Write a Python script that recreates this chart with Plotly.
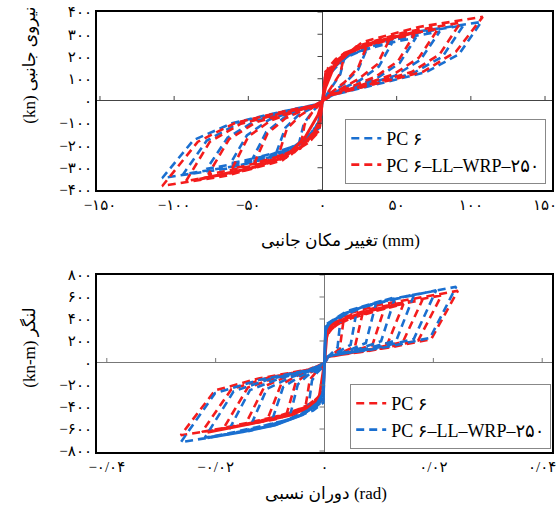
import plotly.graph_objects as go

# ---------------- DATA ----------------
# Top chart: lateral force (kN) vs lateral displacement (mm); cycles listed separately
top_blue_cycles_x = [
    [0, 2, 3.8, 9, 15, 12, 7, 4, 1, 0, -2, -4, -9.6, -16, -12.5, -7, -3.5, -0.8],
    [0, 2, 7.5, 18, 30, 24, 15, 8, 2, 0, -2, -7.8, -18.6, -31, -25, -16, -7, -1.6],
    [0, 2, 11.8, 28, 47, 38, 25, 13, 3, 0, -2, -11.8, -28, -47, -38, -26, -11, -2.4],
    [0, 2, 15.8, 38, 63, 52, 37, 19, 4, 0, -2, -15.5, -37, -62, -51, -36, -16, -3.1],
    [0, 2, 19.8, 47.4, 79, 66, 49, 25, 5, 0, -2, -19.5, -46.8, -78, -64, -46, -20, -3.9],
    [0, 2, 23.8, 57, 95, 81, 61, 31, 6, 0, -2, -23.5, -56.4, -94, -78, -56, -24, -4.7],
    [0, 2, 26.8, 64.2, 107, 92, 70, 36, 7, 0, -2, -27, -64.8, -108, -87, -61, -27, -5.4],
]
top_blue_cycles_y = [
    [0, 70, 140, 176, 200, 120, 70, 40, 14, 0, -68, -137, -172, -195, -100, -50, -25, -10],
    [0, 82, 165, 207, 235, 140, 80, 48, 18, 0, -81, -161, -202, -230, -120, -62, -30, -12],
    [0, 92, 183, 231, 262, 155, 92, 55, 20, 0, -90, -181, -227, -258, -140, -75, -34, -13],
    [0, 100, 200, 251, 285, 170, 104, 60, 22, 0, -98, -196, -246, -280, -155, -84, -38, -14],
    [0, 109, 218, 275, 312, 185, 114, 66, 24, 0, -107, -214, -268, -305, -165, -92, -42, -15],
    [0, 119, 238, 299, 340, 200, 124, 70, 26, 0, -116, -231, -290, -330, -178, -98, -45, -17],
    [0, 124, 249, 312, 355, 210, 130, 74, 27, 0, -121, -242, -304, -346, -176, -100, -47, -17],
]
top_red_cycles_x = [
    [0, 2, 3.8, 9, 15, 12, 7, 4, 1, 0, -2, -3.8, -9, -15, -12, -7, -3.5, -0.8],
    [0, 2, 7.5, 18, 30, 24, 15, 8, 2, 0, -2, -7.5, -18, -30, -24, -15, -7, -1.5],
    [0, 2, 11, 27, 45, 37, 24, 13, 3, 0, -2, -11.5, -27.6, -46, -37, -25, -11, -2.3],
    [0, 2, 15.5, 37, 62, 51, 36, 19, 4, 0, -2, -15, -37, -61, -50, -35, -15, -3],
    [0, 2, 19.5, 47, 78, 65, 48, 25, 5, 0, -2, -19, -46, -77, -63, -45, -19, -4],
    [0, 2, 23, 56, 93, 79, 60, 31, 6, 0, -2, -23, -55, -92, -76, -55, -23, -5],
    [0, 2, 27, 65, 108, 90, 68, 36, 7, 0, -2, -27, -65, -108, -84, -59, -27, -5],
]
top_red_cycles_y = [
    [0, 75, 150, 189, 215, 125, 72, 42, 15, 0, -74, -147, -185, -210, -105, -52, -26, -11],
    [0, 88, 175, 220, 250, 150, 85, 50, 18, 0, -88, -175, -220, -250, -125, -65, -31, -13],
    [0, 96, 193, 242, 275, 165, 98, 57, 20, 0, -98, -196, -246, -280, -145, -78, -35, -14],
    [0, 105, 210, 264, 300, 180, 110, 63, 22, 0, -107, -214, -268, -305, -160, -88, -40, -15],
    [0, 114, 228, 286, 325, 195, 120, 69, 24, 0, -116, -231, -290, -330, -172, -96, -44, -17],
    [0, 123, 246, 310, 352, 210, 130, 74, 26, 0, -126, -252, -317, -360, -184, -102, -47, -18],
    [0, 132, 265, 333, 378, 222, 132, 76, 28, 0, -134, -267, -336, -382, -183, -99, -48, -19],
]
top_red_env_x = [-83, -70, -48, -25, -12, -3, 0, 2, 8, 15, 35, 50, 63]
top_red_env_y = [-352, -333, -301, -252, -166, -63, 0, 60, 160, 216, 265, 290, 310]

# Bottom chart: moment (kN-m) vs relative rotation (rad)
bot_red_cycles_x = [
    [0, 0.0002, 0.0006, 0.0015, 0.0028, 0.0035, 0.0028, 0.0018, 0.0011, 0.0001, 0,
     -0.0002, -0.0003, -0.0012, -0.0028, -0.0035, -0.0027, -0.0016, -0.0004, 0],
    [0, 0.0002, 0.0012, 0.0029, 0.0056, 0.007, 0.0056, 0.0035, 0.0021, 0.0003, 0,
     -0.0002, -0.0006, -0.0024, -0.0056, -0.007, -0.0053, -0.0032, -0.0008, 0],
    [0, 0.0002, 0.0019, 0.0046, 0.0088, 0.011, 0.0088, 0.0055, 0.0033, 0.0004, 0,
     -0.0002, -0.0008, -0.0036, -0.0084, -0.0105, -0.008, -0.0048, -0.0012, 0],
    [0, 0.0002, 0.0025, 0.0061, 0.0116, 0.0145, 0.0116, 0.0073, 0.0044, 0.0006, 0,
     -0.0002, -0.0012, -0.0049, -0.0116, -0.0145, -0.011, -0.0067, -0.0016, 0],
    [0, 0.0002, 0.0031, 0.0076, 0.0144, 0.018, 0.0144, 0.009, 0.0054, 0.0007, 0,
     -0.0002, -0.0015, -0.0063, -0.0148, -0.0185, -0.0141, -0.0085, -0.002, 0],
    [0, 0.0002, 0.0037, 0.009, 0.0172, 0.0215, 0.0172, 0.0108, 0.0065, 0.0009, 0,
     -0.0002, -0.0018, -0.0077, -0.018, -0.0225, -0.0171, -0.0104, -0.0025, 0],
    [0, 0.0002, 0.0042, 0.0103, 0.0196, 0.0245, 0.0196, 0.0123, 0.0074, 0.001, 0,
     -0.0002, -0.0021, -0.009, -0.0211, -0.0264, -0.0201, -0.0121, -0.0029, 0],
]
bot_red_cycles_y = [
    [0, 195, 265, 316, 367, 390, 129, 86, 62, 39, 0, -200, -240, -312, -376, -400, -152, -86, -36, 0],
    [0, 225, 306, 365, 423, 450, 149, 99, 72, 45, 0, -235, -282, -367, -442, -470, -179, -101, -42, 0],
    [0, 248, 337, 401, 465, 495, 163, 109, 79, 50, 0, -258, -309, -402, -484, -515, -196, -111, -46, 0],
    [0, 268, 364, 433, 503, 535, 177, 118, 86, 54, 0, -278, -333, -433, -522, -555, -211, -119, -50, 0],
    [0, 288, 391, 466, 541, 575, 190, 127, 92, 58, 0, -295, -354, -460, -555, -590, -224, -127, -53, 0],
    [0, 308, 418, 498, 578, 615, 203, 135, 98, 62, 0, -313, -375, -488, -588, -625, -238, -134, -56, 0],
    [0, 328, 446, 531, 617, 656, 216, 144, 105, 66, 0, -328, -394, -512, -617, -656, -249, -141, -59, 0],
]
bot_blue_cycles_x = [
    [0, 0.0002, 0.0005, 0.0013, 0.0024, 0.003, 0.0024, 0.0015, 0.0009, 0.0001, 0,
     -0.0002, -0.0002, -0.001, -0.0024, -0.003, -0.0023, -0.0014, -0.0003, 0],
    [0, 0.0002, 0.001, 0.0025, 0.0048, 0.006, 0.0048, 0.003, 0.0018, 0.0002, 0,
     -0.0002, -0.0005, -0.0022, -0.0052, -0.0065, -0.0049, -0.003, -0.0007, 0],
    [0, 0.0002, 0.0016, 0.004, 0.0076, 0.0095, 0.0076, 0.0048, 0.0029, 0.0004, 0,
     -0.0002, -0.0008, -0.0034, -0.008, -0.01, -0.0076, -0.0046, -0.0011, 0],
    [0, 0.0002, 0.0022, 0.0055, 0.0104, 0.013, 0.0104, 0.0065, 0.0039, 0.0005, 0,
     -0.0002, -0.0011, -0.0048, -0.0112, -0.014, -0.0106, -0.0064, -0.0015, 0],
    [0, 0.0002, 0.0028, 0.0069, 0.0132, 0.0165, 0.0132, 0.0083, 0.005, 0.0007, 0,
     -0.0002, -0.0014, -0.0061, -0.0144, -0.018, -0.0137, -0.0083, -0.002, 0],
    [0, 0.0002, 0.0035, 0.0086, 0.0164, 0.0205, 0.0164, 0.0103, 0.0062, 0.0008, 0,
     -0.0002, -0.0018, -0.0075, -0.0176, -0.022, -0.0167, -0.0101, -0.0024, 0],
    [0, 0.0002, 0.0041, 0.0102, 0.0194, 0.0242, 0.0194, 0.0121, 0.0073, 0.001, 0,
     -0.0002, -0.0021, -0.009, -0.0211, -0.0264, -0.0201, -0.0121, -0.0029, 0],
]
bot_blue_cycles_y = [
    [0, 215, 292, 348, 404, 430, 142, 95, 69, 43, 0, -210, -252, -328, -395, -420, -160, -90, -38, 0],
    [0, 250, 340, 405, 470, 500, 165, 110, 80, 50, 0, -255, -306, -398, -479, -510, -194, -110, -46, 0],
    [0, 275, 374, 446, 517, 550, 182, 121, 88, 55, 0, -288, -345, -449, -541, -575, -219, -124, -52, 0],
    [0, 300, 408, 486, 564, 600, 198, 132, 96, 60, 0, -310, -372, -484, -583, -620, -236, -133, -56, 0],
    [0, 313, 425, 506, 588, 625, 206, 138, 100, 63, 0, -325, -390, -507, -611, -650, -247, -140, -59, 0],
    [0, 330, 449, 535, 620, 660, 218, 145, 106, 66, 0, -340, -408, -530, -639, -680, -258, -146, -61, 0],
    [0, 347, 471, 561, 651, 693, 229, 152, 111, 69, 0, -360, -432, -562, -677, -720, -274, -155, -65, 0],
]
bot_red_env_x = [-0.0215, -0.0122, -0.006, -0.003, -0.001, 0, 0.0005, 0.0018, 0.0073, 0.0145]
bot_red_env_y = [-629, -538, -470, -401, -320, 0, 300, 365, 465, 547]
bot_blue_env_x = [-0.0215, -0.015, -0.0091, -0.004, -0.0013, -0.0003, 0, 0.0002, 0.0008, 0.002]
bot_blue_env_y = [-680, -625, -565, -470, -365, -280, 0, 300, 360, 400]

# tick values / labels
top_x_ticks = [-150, -100, -50, 0, 50, 100, 150]
top_x_labels = ["−۱۵۰", "−۱۰۰", "−۵۰", "۰", "۵۰", "۱۰۰", "۱۵۰"]
top_y_ticks = [-400, -300, -200, -100, 0, 100, 200, 300, 400]
top_y_labels = ["−۴۰۰", "−۳۰۰", "−۲۰۰", "−۱۰۰", "۰", "۱۰۰", "۲۰۰", "۳۰۰", "۴۰۰"]
bot_x_ticks = [-0.04, -0.02, 0, 0.02, 0.04]
bot_x_labels = ["−۰/۰۴", "−۰/۰۲", "۰", "۰/۰۲", "۰/۰۴"]
bot_y_ticks = [-800, -600, -400, -200, 0, 200, 400, 600, 800]
bot_y_labels = ["−۸۰۰", "−۶۰۰", "−۴۰۰", "−۲۰۰", "۰", "۲۰۰", "۴۰۰", "۶۰۰", "۸۰۰"]

name_a = "PC ۶"
name_b = "PC ۶–LL–WRP–۲۵۰"

BLUE = "#1a6fd0"
RED = "#f41c1c"
FONT = "Liberation Serif, 'DejaVu Sans', serif"
DASH = "8px,5px"


def join(cycles):
    out = []
    for c in cycles:
        out.extend(c)
    return out


fig = go.Figure()

# top chart
fig.add_trace(go.Scatter(x=join(top_blue_cycles_x), y=join(top_blue_cycles_y), mode="lines",
                         line=dict(color=BLUE, width=2.6, dash=DASH), name=name_a,
                         xaxis="x", yaxis="y", legend="legend", legendgroup="ta", legendrank=1))
fig.add_trace(go.Scatter(x=join(top_red_cycles_x), y=join(top_red_cycles_y), mode="lines",
                         line=dict(color=RED, width=2.6, dash=DASH), name=name_b,
                         xaxis="x", yaxis="y", legend="legend", legendgroup="tb", legendrank=2))
fig.add_trace(go.Scatter(x=top_red_env_x, y=top_red_env_y, mode="lines",
                         line=dict(color=RED, width=3), showlegend=False, xaxis="x", yaxis="y"))

# bottom chart
fig.add_trace(go.Scatter(x=join(bot_red_cycles_x), y=join(bot_red_cycles_y), mode="lines",
                         line=dict(color=RED, width=2.6, dash=DASH), name=name_a,
                         xaxis="x2", yaxis="y2", legend="legend2", legendgroup="ba", legendrank=1))
fig.add_trace(go.Scatter(x=join(bot_blue_cycles_x), y=join(bot_blue_cycles_y), mode="lines",
                         line=dict(color=BLUE, width=2.6, dash=DASH), name=name_b,
                         xaxis="x2", yaxis="y2", legend="legend2", legendgroup="bb", legendrank=2))
fig.add_trace(go.Scatter(x=bot_red_env_x, y=bot_red_env_y, mode="lines",
                         line=dict(color=RED, width=3), showlegend=False, xaxis="x2", yaxis="y2"))
fig.add_trace(go.Scatter(x=bot_blue_env_x, y=bot_blue_env_y, mode="lines",
                         line=dict(color=BLUE, width=3), showlegend=False, xaxis="x2", yaxis="y2"))

axis_common = dict(showline=True, mirror=True, linecolor="black", linewidth=2,
                   showgrid=False, ticks="", zeroline=True, zerolinewidth=1,
                   ticklabeloverflow="allow",
                   tickfont=dict(family=FONT, size=15, color="black"))

fig.update_layout(
    width=559, height=513,
    margin=dict(l=97, r=2, t=12, b=61),
    paper_bgcolor="white", plot_bgcolor="white",
    xaxis=dict(domain=[0, 1], anchor="y", range=[-152, 154.7], tickmode="array",
               tickvals=top_x_ticks, ticktext=top_x_labels, zerolinecolor="#444", **axis_common),
    yaxis=dict(domain=[0.5955, 1], anchor="x", range=[-400, 400], tickmode="array",
               tickvals=top_y_ticks, ticktext=top_y_labels, zerolinecolor="#444", **axis_common),
    xaxis2=dict(domain=[0, 1], anchor="y2", range=[-0.0418, 0.0418], tickmode="array",
                tickvals=bot_x_ticks, ticktext=bot_x_labels, zerolinecolor="#777", **axis_common),
    yaxis2=dict(domain=[0, 0.4023], anchor="x2", range=[-809, 800], tickmode="array",
                tickvals=bot_y_ticks, ticktext=bot_y_labels, zerolinecolor="#777", **axis_common),
    legend=dict(x=0.5457, y=0.7568, xanchor="left", yanchor="top", bgcolor="white",
                bordercolor="#888", borderwidth=1, font=dict(family=FONT, size=18, color="black"),
                traceorder="grouped", tracegroupgap=0),
    legend2=dict(x=0.5565, y=0.1545, xanchor="left", yanchor="top", bgcolor="white",
                 bordercolor="#888", borderwidth=1, font=dict(family=FONT, size=18, color="black"),
                 traceorder="grouped", tracegroupgap=0),
    showlegend=True,
)

# small inner ticks on the zero axes
shapes = []
for v in top_x_ticks:
    if v != 0:
        shapes.append(dict(type="line", xref="x", yref="y", x0=v, x1=v, ysizemode="pixel",
                           yanchor=0, y0=0, y1=5, line=dict(color="#444", width=1)))
for v in top_y_ticks:
    if v != 0:
        shapes.append(dict(type="line", xref="x", yref="y", y0=v, y1=v, xsizemode="pixel",
                           xanchor=0, x0=-5, x1=0, line=dict(color="#444", width=1)))
for v in bot_x_ticks:
    if v != 0:
        shapes.append(dict(type="line", xref="x2", yref="y2", x0=v, x1=v, ysizemode="pixel",
                           yanchor=0, y0=0, y1=5, line=dict(color="#777", width=1)))
for v in bot_y_ticks:
    if v != 0:
        shapes.append(dict(type="line", xref="x2", yref="y2", y0=v, y1=v, xsizemode="pixel",
                           xanchor=0, x0=-5, x1=0, line=dict(color="#777", width=1)))
fig.update_layout(shapes=shapes)

title_font = dict(family=FONT, size=17, color="black")
ann = dict(xref="paper", yref="paper", showarrow=False, font=title_font,
           xanchor="center", yanchor="middle")
fig.add_annotation(text="(kn) نیروی جانبی", x=-0.15, y=0.8795, textangle=-90, **ann)
fig.add_annotation(text="تغییر مکان جانبی (mm)", x=0.5348, y=0.4818, **ann)
fig.add_annotation(text="(kn-m) لنگر", x=-0.15, y=0.2386, textangle=-90, **ann)
fig.add_annotation(text="دوران نسبی (rad)", x=0.5043, y=-0.0932, **ann)

fig.write_html("out.html", config={"displayModeBar": False},
               post_script="document.body.style.margin='0px';document.body.style.overflow='hidden';")
